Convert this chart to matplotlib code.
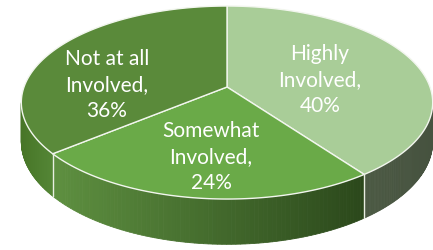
import matplotlib.pyplot as plt
import numpy as np
from matplotlib.colors import to_rgb
from matplotlib.patches import Polygon

categories = ["Highly\nInvolved", "Somewhat\nInvolved", "Not at all\nInvolved"]
shares = [40, 24, 36]

top_colors = ["#a9cd98", "#6aaa48", "#5a8a3a"]
# side colour at the left / right end of each slice's visible wall
side_colors = [("#4c5a44", "#46523f"), ("#5e9040", "#2b481b"), ("#477527", "#548636")]
label_pos = [(320, 80), (211, 157), (107, 85)]

# projection of the pie (pixel units, y down)
cx, cy = 227, 88
A, B, K, DEPTH = 203, 94, 0.161, 38


def proj(t, z=0.0):
    u, v = np.cos(t), np.sin(t)
    den = 1 + K * v
    return cx + A * u / den, cy - (B * v + DEPTH * z) / den


fig = plt.figure(figsize=(4.33, 2.51), dpi=100)
ax = fig.add_axes([0, 0, 1, 1])
ax.set_xlim(0, 433)
ax.set_ylim(251, 0)
ax.axis("off")

# slice angle ranges, clockwise from 12 o'clock
fracs = np.array(shares) / sum(shares)
ends = np.pi / 2 - 2 * np.pi * np.cumsum(fracs)
starts = np.concatenate([[np.pi / 2], ends[:-1]])

# visible wall lies between the two silhouette angles
vis_lo = -np.pi + np.arcsin(K)
vis_hi = -np.arcsin(K)

for i in range(len(shares)):
    a0, a1 = ends[i], starts[i]
    for shift in (0, -2 * np.pi, 2 * np.pi):
        lo = max(a0 + shift, vis_lo)
        hi = min(a1 + shift, vis_hi)
        if hi <= lo:
            continue
        ts = np.linspace(lo, hi, 80)
        xs_all = proj(ts)[0]
        xmin, xmax = xs_all.min(), xs_all.max()
        c_left = np.array(to_rgb(side_colors[i][0]))
        c_right = np.array(to_rgb(side_colors[i][1]))
        for j in range(len(ts) - 1):
            tt = ts[j:j + 2]
            xt, yt = proj(tt)
            xb, yb = proj(tt[::-1], -1)
            xm = (xt.mean() - xmin) / max(xmax - xmin, 1)
            col = c_left + (c_right - c_left) * xm
            ax.add_patch(Polygon(np.column_stack([np.r_[xt, xb], np.r_[yt, yb]]),
                                 closed=True, fc=col, ec=col, lw=0.6))

# vertical seams on the wall
for a in ends:
    aa = (a + np.pi) % (2 * np.pi) - np.pi
    if vis_lo < aa < vis_hi:
        x0, y0 = proj(aa)
        x1, y1 = proj(aa, -1)
        ax.plot([x0, x1], [y0, y1], color="#e8eee2", lw=1.0)

# top face slices
for i in range(len(shares)):
    ts = np.linspace(starts[i], ends[i], 200)
    xs, ys = proj(ts)
    pts = np.column_stack([np.r_[cx, xs], np.r_[cy, ys]])
    ax.add_patch(Polygon(pts, closed=True, fc=top_colors[i], ec="#f2f6ee", lw=1.0))

for i, cat in enumerate(categories):
    x, y = label_pos[i]
    ax.text(x, y, f"{cat},\n{shares[i]}%", color="white", fontsize=15,
            family="Lato", ha="center", va="center", linespacing=1.35)

fig.savefig("out.png", dpi=100)
